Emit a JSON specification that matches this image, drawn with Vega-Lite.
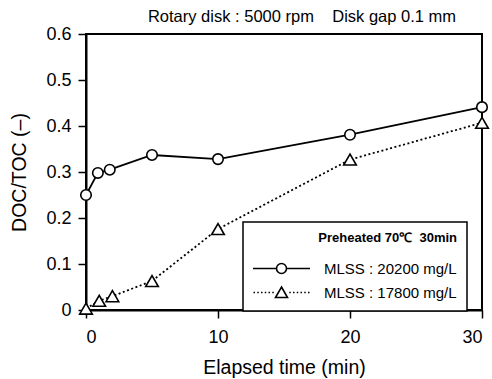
{
  "$schema": "https://vega.github.io/schema/vega-lite/v6.json",
  "width": 396,
  "height": 276,
  "autosize": {"type": "none"},
  "padding": {"left": 86, "top": 34, "right": 10, "bottom": 69},
  "background": "white",
  "config": {
    "font": "Liberation Sans",
    "view": {"stroke": "black", "strokeWidth": 2},
    "axis": {"grid": false, "domainColor": "black", "domainWidth": 2, "tickColor": "black", "tickWidth": 1.5, "tickSize": 8, "labelColor": "black", "titleColor": "black", "labelFontSize": 18, "titleFontSize": 19.5, "titleFontWeight": "normal"}
  },
  "title": {"text": "Rotary disk : 5000\u00a0rpm\u00a0\u00a0\u00a0\u00a0Disk gap 0.1\u00a0mm", "fontSize": 16.5, "fontWeight": "normal", "color": "black", "anchor": "middle", "dx": 18, "offset": 0},
  "data": {"values": [
    {"t": 0, "v": 0.25, "s": "MLSS : 20200 mg/L"},
    {"t": 0.9, "v": 0.298, "s": "MLSS : 20200 mg/L"},
    {"t": 1.8, "v": 0.305, "s": "MLSS : 20200 mg/L"},
    {"t": 5, "v": 0.337, "s": "MLSS : 20200 mg/L"},
    {"t": 10, "v": 0.328, "s": "MLSS : 20200 mg/L"},
    {"t": 20, "v": 0.381, "s": "MLSS : 20200 mg/L"},
    {"t": 30, "v": 0.441, "s": "MLSS : 20200 mg/L"},
    {"t": 0, "v": 0.003, "s": "MLSS : 17800 mg/L"},
    {"t": 1, "v": 0.02, "s": "MLSS : 17800 mg/L"},
    {"t": 2, "v": 0.03, "s": "MLSS : 17800 mg/L"},
    {"t": 5, "v": 0.063, "s": "MLSS : 17800 mg/L"},
    {"t": 10, "v": 0.176, "s": "MLSS : 17800 mg/L"},
    {"t": 20, "v": 0.327, "s": "MLSS : 17800 mg/L"},
    {"t": 30, "v": 0.407, "s": "MLSS : 17800 mg/L"}
  ]},
  "encoding": {
    "x": {"field": "t", "type": "quantitative", "scale": {"domain": [0, 30], "nice": false}, "axis": {"values": [0, 10, 20, 30], "title": "Elapsed time (min)", "labelPadding": 10, "titlePadding": 12}},
    "y": {"field": "v", "type": "quantitative", "scale": {"domain": [0, 0.6], "nice": false}, "axis": {"values": [0, 0.1, 0.2, 0.3, 0.4, 0.5, 0.6], "labelExpr": "datum.value == 0 ? '0' : format(datum.value, '.1f')", "labelPadding": 7, "title": "DOC/TOC (\u2013)", "titlePadding": 16}}
  },
  "layer": [
    {
      "transform": [{"filter": "datum.s == 'MLSS : 20200 mg/L'"}],
      "mark": {"type": "line", "color": "black", "strokeWidth": 1.8}
    },
    {
      "transform": [{"filter": "datum.s == 'MLSS : 17800 mg/L'"}],
      "mark": {"type": "line", "color": "black", "strokeWidth": 1.8, "strokeDash": [2, 2.5]}
    },
    {
      "transform": [{"filter": "datum.s == 'MLSS : 20200 mg/L'"}],
      "mark": {"type": "point", "shape": "circle", "filled": true, "fill": "white", "stroke": "black", "strokeWidth": 1.6, "size": 110},
      "encoding": {
        "opacity": {"field": "s", "type": "nominal", "scale": {"domain": ["MLSS : 20200 mg/L", "MLSS : 17800 mg/L"], "range": [1, 1]},
          "legend": {
            "title": "Preheated 70\u2103\u00a0\u00a030min\u00a0\u00a0",
            "orient": "none",
            "legendX": 157,
            "legendY": 188,
            "strokeColor": "black",
            "fillColor": "white",
            "padding": 10,
            "titleFontSize": 13,
            "titleFontWeight": "bold",
            "titleColor": "black",
            "titleAnchor": "end",
            "titlePadding": 16,
            "labelFontSize": 15,
            "labelColor": "black",
            "labelExpr": "datum.label + '\u00a0\u00a0\u00a0'",
            "symbolOffset": 21,
            "labelOffset": 35,
            "rowPadding": 6,
            "symbolSize": 100,
            "symbolStrokeWidth": 1.6,
            "labelLimit": 300,
            "encoding": {
              "legend": {"strokeWidth": {"value": 1.5}},
              "symbols": {
                "shape": {"value": {"expr": "datum.value == 'MLSS : 20200 mg/L' ? 'M-5.7,0L-1,0A1,1 0 1,1 1,0A1,1 0 1,1 -1,0M1,0L5.7,0' : 'M-5.6,0L-5.3,0M-4.85,0L-4.55,0M-4.1,0L-3.8,0M-3.35,0L-3.05,0M-2.6,0L-2.3,0M-1.85,0L-1.55,0M0,-1.1L1.2,1L-1.2,1ZM1.55,0L1.85,0M2.3,0L2.6,0M3.05,0L3.35,0M3.8,0L4.1,0M4.55,0L4.85,0M5.3,0L5.6,0'"}},
                "fill": {"value": "white"},
                "stroke": {"value": "black"},
                "strokeWidth": {"value": 1.6}
              }
            }
          }
        }
      }
    },
    {
      "transform": [{"filter": "datum.s == 'MLSS : 17800 mg/L'"}],
      "mark": {"type": "point", "shape": "triangle-up", "filled": true, "fill": "white", "stroke": "black", "strokeWidth": 1.6, "size": 160, "opacity": 1}
    }
  ]
}
